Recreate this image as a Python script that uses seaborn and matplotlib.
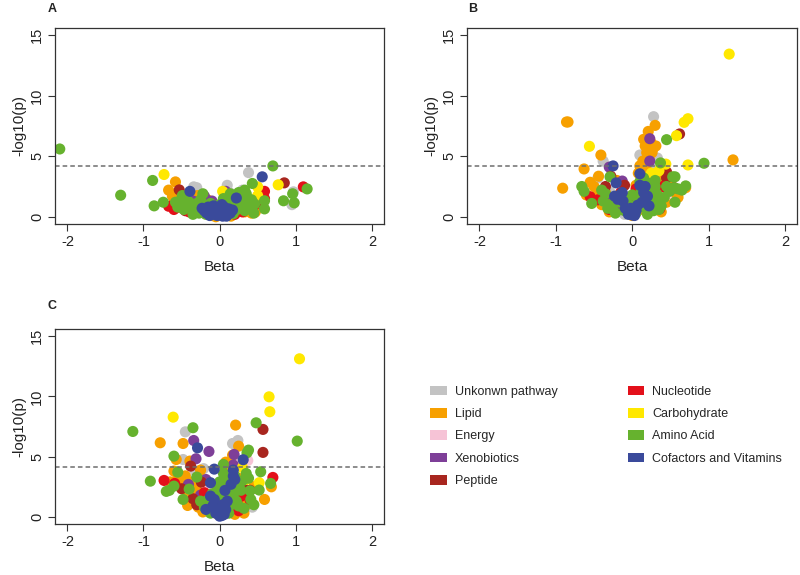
import matplotlib
matplotlib.use("Agg")
import matplotlib.pyplot as plt
import pandas as pd
import seaborn as sns
from matplotlib.patches import Patch

# pathway classes and colours
categories = ["Unkonwn pathway", "Lipid", "Energy", "Xenobiotics", "Peptide",
              "Nucleotide", "Carbohydrate", "Amino Acid", "Cofactors and Vitamins"]
colors = ["#c3c3c3", "#f7a000", "#f6c3d6", "#7e3f98", "#a8261f",
          "#e3101a", "#ffe800", "#66b22e", "#3a4a9b"]

threshold = 4.17

# ---- panel A : (beta, -log10 p) per class
A_unknown = [(-0.34, 2.47), (-0.30, 2.4), (0.38, 3.65), (0.10, 2.6), (0.13, 2.0), (0.30, 2.2),
             (0.97, 2.06), (0.95, 1.0), (-0.38, 1.9), (-0.25, 1.5), (0.22, 1.1), (-0.45, 1.2),
             (0.05, 0.8), (0.32, 1.6)]
A_lipid = [(-0.58, 2.88), (-0.67, 2.2), (-0.29, 1.75), (-0.59, 1.4), (-0.16, 1.4), (0.47, 0.4),
           (-0.62, 1.7), (-0.45, 0.9), (-0.35, 0.6), (-0.2, 0.3), (-0.1, 0.1), (0.1, 0.15),
           (0.25, 0.5), (0.35, 0.7), (0.4, 1.3), (0.28, 1.0), (-0.5, 1.1), (0.15, 0.05),
           (-0.05, 0.0), (0.05, 0.3), (-0.28, 1.1), (0.42, 0.3), (0.2, 0.3), (-0.4, 1.5), (0.33, 0.4)]
A_energy = [(0.2, 0.9), (-0.1, 1.0), (0.35, 1.2)]
A_xeno = [(0.08, 2.1), (-0.20, 1.7), (-0.1, 1.3), (-0.25, 1.0), (0.1, 0.8), (-0.35, 1.3),
          (0.0, 0.5), (0.25, 1.3), (-0.15, 0.3), (0.15, 1.0)]
A_peptide = [(-0.53, 2.22), (0.85, 2.8), (0.51, 1.2), (0.4, 1.0), (-0.3, 0.7), (0.3, 0.9),
             (0.12, 0.4), (-0.45, 0.5)]
A_nucleotide = [(-0.67, 0.87), (-0.53, 0.8), (0.59, 2.1), (0.59, 1.5), (1.10, 2.47), (0.55, 1.8),
                (0.3, 0.4), (-0.4, 0.4), (0.45, 0.9), (-0.6, 0.6), (0.2, 0.2)]
A_carb = [(-0.73, 3.49), (0.50, 2.47), (0.04, 2.1), (0.77, 2.64), (0.50, 1.75), (0.32, 0.6),
          (0.12, 0.9), (-0.2, 0.5)]
A_amino = [(-2.10, 5.6), (-1.30, 1.78), (-0.88, 3.0), (-0.86, 0.9), (-0.74, 1.2), (0.70, 4.2),
           (0.43, 2.75), (1.15, 2.3), (0.96, 1.9), (0.84, 1.32), (0.98, 1.15), (0.59, 1.32),
           (0.59, 0.65), (0.46, 1.05), (0.33, 2.2), (-0.22, 1.9), (-0.49, 1.75), (-0.43, 1.4),
           (-0.58, 1.2), (-0.55, 0.8), (-0.47, 0.6), (-0.38, 0.9), (-0.33, 0.5), (-0.30, 1.1),
           (-0.27, 0.3), (-0.22, 0.7), (-0.18, 0.2), (-0.12, 1.1), (-0.08, 0.5), (-0.05, 0.15),
           (0.02, 0.8), (0.06, 1.2), (0.08, 0.4), (0.12, 1.5), (0.15, 0.9), (0.18, 0.25),
           (0.20, 1.3), (0.23, 0.6), (0.26, 1.7), (0.28, 0.9), (0.30, 1.3), (0.33, 0.5),
           (0.36, 1.6), (0.38, 1.1), (0.40, 0.7), (0.42, 1.4), (0.25, 2.0), (0.35, 1.9),
           (-0.25, 1.4), (-0.15, 0.9), (0.1, 0.1), (-0.4, 1.2), (0.14, 1.9), (0.05, 1.5), (0.0, 1.0),
           (-0.35, 0.2), (0.45, 0.3), (-0.52, 1.3), (0.18, 1.1)]
A_cofactor = [(-0.39, 2.1), (0.56, 3.3), (0.22, 1.55), (-0.23, 0.7), (-0.20, 0.5), (-0.17, 0.3),
              (-0.15, 0.8), (-0.12, 0.55), (-0.10, 0.2), (-0.08, 0.9), (-0.06, 0.4), (-0.03, 0.1),
              (0.0, 0.6), (0.02, 0.3), (0.04, 0.05), (0.06, 0.8), (0.08, 0.45), (0.10, 0.2),
              (0.12, 0.65), (0.14, 0.3), (0.17, 0.55), (-0.01, 0.35), (-0.13, 0.1), (0.09, 0.05),
              (-0.05, 0.7), (0.03, 1.0)]

# ---- panel B
B_unknown = [(0.28, 8.27), (-0.38, 4.6), (0.10, 5.1), (0.33, 4.85), (-0.45, 3.2), (0.15, 4.2),
             (0.2, 3.8), (-0.3, 2.2), (0.4, 2.2), (-0.1, 0.2), (0.25, 4.0), (-0.5, 1.5)]
B_lipid = [(-0.86, 7.83), (-0.84, 7.83), (0.30, 7.55), (0.21, 7.05), (0.17, 5.85), (0.19, 5.3),
           (0.31, 5.85), (0.26, 5.3), (-0.41, 5.1), (1.32, 4.7), (-0.63, 3.95), (-0.91, 2.36),
           (-0.55, 2.85), (-0.44, 3.35), (0.08, 3.6), (0.10, 4.2), (0.14, 4.6), (0.22, 4.8),
           (0.18, 4.0), (0.12, 3.2), (0.24, 6.2), (0.27, 5.6), (-0.5, 2.5), (-0.6, 1.8),
           (-0.35, 2.0), (-0.25, 1.2), (-0.15, 0.6), (0.0, 0.1), (0.2, 0.3), (0.3, 0.8),
           (0.45, 1.2), (0.55, 2.0), (0.7, 2.4), (0.6, 1.6), (-0.4, 1.0), (0.35, 2.8),
           (0.5, 2.8), (-0.2, 3.0), (0.05, 2.6), (0.4, 3.2), (0.15, 6.4), (-0.45, 2.2),
           (-0.3, 0.4), (0.1, 0.6), (0.38, 0.4)]
B_energy = [(0.40, 2.2), (0.45, 1.8), (0.1, 1.0), (-0.2, 1.5)]
B_xeno = [(0.23, 6.45), (0.23, 4.6), (-0.30, 4.1), (-0.13, 2.95), (-0.35, 1.5), (0.05, 2.0),
          (-0.2, 0.9)]
B_peptide = [(0.62, 6.84), (-0.28, 3.35), (0.45, 3.7), (0.45, 3.2), (-0.35, 2.5), (0.3, 1.8),
             (-0.1, 2.6), (0.55, 2.4), (0.0, 1.5)]
B_nucleotide = [(-0.55, 1.65), (0.36, 0.65), (-0.45, 1.4), (-0.15, 2.0), (0.25, 1.0), (0.05, 2.3),
                (0.4, 2.5), (-0.3, 0.6), (0.15, 1.4), (0.3, 2.2), (-0.05, 0.4)]
B_carb = [(1.27, 13.44), (0.73, 8.1), (0.68, 7.8), (0.58, 6.7), (-0.56, 5.82), (0.73, 4.28),
          (0.44, 4.35), (0.25, 3.6), (0.35, 3.8), (0.15, 2.5)]
B_amino = [(0.45, 6.37), (0.94, 4.42), (0.37, 4.45), (0.53, 3.3), (0.56, 3.3), (0.55, 2.4),
           (0.49, 2.1), (0.70, 2.55), (0.56, 1.2), (-0.66, 2.5), (-0.63, 2.1), (-0.53, 1.1),
           (-0.29, 3.3), (0.30, 3.0), (0.2, 2.8), (0.1, 2.9), (-0.4, 2.2), (-0.35, 1.9),
           (-0.3, 1.0), (-0.25, 0.6), (-0.2, 1.7), (-0.15, 1.2), (-0.1, 0.5), (-0.05, 1.0),
           (0.0, 1.8), (0.05, 0.3), (0.08, 1.3), (0.12, 2.2), (0.15, 0.8), (0.18, 1.6),
           (0.22, 2.4), (0.25, 1.2), (0.28, 0.5), (0.32, 1.9), (0.35, 1.3), (0.38, 0.9),
           (0.42, 1.6), (0.3, 2.5), (0.2, 0.2), (-0.32, 0.7), (0.6, 2.3), (0.65, 2.2),
           (0.45, 2.5), (0.15, 3.2), (-0.38, 1.3), (-0.08, 1.5), (0.02, 0.9), (0.25, 1.9),
           (0.35, 0.6), (-0.22, 0.3), (0.1, 1.7)]
B_cofactor = [(-0.25, 4.2), (-0.21, 2.8), (-0.23, 1.7), (-0.13, 2.0), (-0.19, 1.45), (-0.16, 1.8),
              (0.10, 3.55), (0.17, 2.5), (0.15, 2.0), (0.20, 1.7), (-0.09, 0.7), (0.0, 0.4),
              (0.0, 0.15), (0.07, 0.95), (0.05, 0.5), (-0.05, 0.2), (0.13, 1.2), (-0.12, 1.3),
              (0.03, 0.1), (-0.02, 0.7), (0.22, 0.9), (0.10, 2.6)]

# ---- panel C
C_unknown = [(-0.45, 7.06), (0.24, 6.34), (0.17, 6.09), (-0.48, 4.76), (-0.32, 3.80), (-0.21, 4.0),
             (0.43, 0.80), (-0.28, 3.5), (0.3, 1.2), (-0.1, 2.6), (0.2, 4.9)]
C_lipid = [(0.21, 7.62), (-0.78, 6.15), (-0.48, 6.09), (0.25, 5.87), (0.17, 5.12), (-0.57, 4.76),
           (-0.39, 4.63), (0.08, 4.54), (-0.25, 3.88), (0.68, 2.49), (0.59, 1.44), (-0.42, 0.94),
           (-0.6, 3.8), (-0.55, 3.2), (-0.5, 2.6), (-0.45, 3.4), (-0.35, 2.9), (-0.3, 2.2),
           (-0.2, 1.6), (-0.15, 0.9), (-0.05, 0.3), (0.05, 0.5), (0.1, 1.2), (0.15, 2.6),
           (0.25, 3.2), (0.3, 2.0), (0.35, 1.0), (-0.38, 1.6), (-0.28, 0.8), (0.45, 2.5),
           (0.12, 4.2), (0.2, 0.2), (-0.65, 2.9), (-0.42, 2.1), (-0.22, 0.4), (0.32, 0.3)]
C_energy = [(0.37, 4.68), (0.28, 4.5), (-0.15, 2.2)]
C_xeno = [(-0.34, 6.34), (-0.14, 5.43), (0.19, 5.18), (-0.31, 4.82), (-0.41, 2.69), (-0.18, 3.1),
          (0.18, 4.3), (0.05, 1.6), (-0.25, 1.8)]
C_peptide = [(0.57, 7.26), (0.57, 5.35), (-0.38, 4.21), (-0.50, 2.33), (-0.24, 2.88), (-0.35, 1.5),
             (0.3, 2.7), (-0.15, 1.2), (0.2, 1.0), (0.4, 2.2), (-0.3, 1.0)]
C_nucleotide = [(0.70, 3.27), (-0.73, 3.02), (-0.59, 2.77), (0.35, 2.0), (0.15, 1.3), (-0.1, 0.4),
                (0.4, 1.4), (0.28, 1.7), (-0.2, 2.0), (0.25, 0.5)]
C_carb = [(1.05, 13.13), (0.65, 9.97), (0.66, 8.73), (-0.61, 8.28), (0.52, 2.83), (0.01, 2.22),
          (0.3, 4.1), (0.35, 3.1)]
C_amino = [(0.48, 7.81), (-0.35, 7.40), (-1.14, 7.09), (1.02, 6.29), (0.38, 5.54), (0.36, 5.32),
           (-0.60, 5.04), (0.05, 4.35), (0.54, 3.74), (0.67, 2.77), (0.52, 2.22), (0.40, 2.16),
           (0.41, 1.44), (0.45, 1.0), (-0.91, 2.96), (-0.70, 2.11), (-0.66, 2.2), (-0.60, 2.55),
           (-0.48, 1.44), (-0.55, 3.71), (0.05, 3.6), (0.1, 3.2), (0.15, 2.8), (0.2, 3.4),
           (0.25, 2.5), (0.3, 3.0), (0.35, 3.6), (0.12, 2.2), (0.18, 1.8), (0.22, 1.3),
           (0.28, 2.2), (0.32, 0.7), (0.08, 0.9), (0.02, 1.7), (-0.05, 1.1), (-0.1, 1.9),
           (-0.15, 1.4), (-0.2, 0.8), (-0.25, 1.3), (-0.12, 0.3), (0.12, 0.3), (0.38, 3.2),
           (-0.4, 2.3), (-0.3, 3.3), (0.0, 2.9), (0.25, 0.9), (0.15, 1.0), (0.1, 2.5),
           (-0.03, 2.3), (0.22, 2.7), (-0.08, 0.6)]
C_cofactor = [(-0.29, 5.73), (0.31, 4.74), (-0.07, 3.96), (0.18, 3.88), (-0.12, 2.83), (0.07, 2.19),
              (0.18, 3.38), (-0.18, 0.61), (-0.07, 1.44), (-0.12, 1.72), (-0.03, 0.6), (0.01, 0.33),
              (0.0, 0.05), (0.08, 0.6), (0.10, 1.3), (-0.05, 0.3), (0.04, 1.0), (-0.09, 0.9),
              (0.03, 0.1), (0.06, 0.2), (0.15, 2.7), (0.2, 3.1)]

panels = {
    "A": [A_unknown, A_lipid, A_energy, A_xeno, A_peptide, A_nucleotide, A_carb, A_amino, A_cofactor],
    "B": [B_unknown, B_lipid, B_energy, B_xeno, B_peptide, B_nucleotide, B_carb, B_amino, B_cofactor],
    "C": [C_unknown, C_lipid, C_energy, C_xeno, C_peptide, C_nucleotide, C_carb, C_amino, C_cofactor],
}


def to_frame(groups):
    rows = []
    for cat, pts in zip(categories, groups):
        for b, p in pts:
            rows.append({"Beta": b, "logp": p, "Pathway": cat})
    return pd.DataFrame(rows)


sns.set_theme(style="white")
plt.rcParams["font.family"] = ["Liberation Sans", "DejaVu Sans"]
plt.rcParams["axes.unicode_minus"] = False

fig = plt.figure(figsize=(8, 5.75), dpi=100)
positions = {
    "A": [0.069, 0.6104, 0.411, 0.341],
    "B": [0.584, 0.6104, 0.4125, 0.341],
    "C": [0.069, 0.0887, 0.411, 0.339],
}
letter_pos = {"A": (0.060, 0.985), "B": (0.585, 0.985), "C": (0.060, 0.468)}
palette = dict(zip(categories, colors))

for name, groups in panels.items():
    ax = fig.add_axes(positions[name])
    df = to_frame(groups)
    sns.scatterplot(data=df, x="Beta", y="logp", hue="Pathway", hue_order=categories,
                    palette=palette, s=64, linewidth=0, alpha=1, legend=False, ax=ax)
    ax.axhline(threshold, color="#6e6e6e", linestyle=(0, (3, 2)), linewidth=1.1)
    ax.set_xlim(-2.16, 2.16)
    ax.set_ylim(-0.6, 15.6)
    ax.set_xticks([-2, -1, 0, 1, 2])
    ax.set_yticks([0, 5, 10, 15])
    ax.set_xticklabels(["-2", "-1", "0", "1", "2"])
    for lab in ax.get_yticklabels():
        lab.set_rotation(90)
        lab.set_va("center")
    ax.tick_params(axis="both", direction="out", length=5, width=0.8, color="#333333",
                   labelsize=10.5, labelcolor="#222222", bottom=True, left=True, pad=3)
    for sp in ax.spines.values():
        sp.set_color("#333333")
        sp.set_linewidth(0.9)
    ax.set_xlabel("Beta", fontsize=11, color="#222222", labelpad=8)
    ax.set_ylabel("-log10(p)", fontsize=11, color="#222222", labelpad=3)
    fig.text(letter_pos[name][0], letter_pos[name][1], name, fontsize=9, fontweight="bold",
             color="#222222", ha="left", va="center")

handles = [Patch(facecolor=c, edgecolor="none", label=l) for l, c in zip(categories, colors)]
fig.legend(handles=handles, loc="upper left", bbox_to_anchor=(0.524, 0.349), ncol=2,
           frameon=False, fontsize=9, handlelength=1.3, handleheight=0.8,
           labelspacing=0.82, columnspacing=5.6, handletextpad=0.65)

fig.savefig("out.png", dpi=100)
